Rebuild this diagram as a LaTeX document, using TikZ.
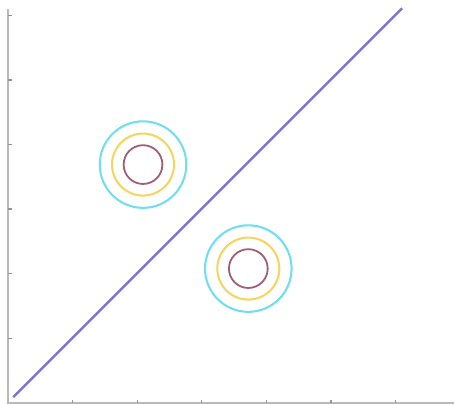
\documentclass[tikz,border=0pt]{standalone}
\definecolor{sepline}{RGB}{128,118,205}
\definecolor{ringc}{RGB}{110,222,240}
\definecolor{ringy}{RGB}{245,212,95}
\definecolor{ringr}{RGB}{160,95,115}
\definecolor{axisg}{RGB}{185,185,185}
\begin{document}
\begin{tikzpicture}[x=1cm, y=1cm]
                    \useasboundingbox (-0.124,-0.031) rectangle (6.966,6.238);
                    \draw[axisg, line width=0.9pt] (0,6.1) -- (0,0) -- (6.9,0);
                    \foreach \t in {1,...,6} {
                        \draw[axisg!80!black, line width=0.6pt] (0,\t) -- (0.06,\t);
                        \draw[axisg!80!black, line width=0.6pt] (\t,0) -- (\t,0.04);
                    }
                    
                    \draw[sepline, line width=1.1pt] (0.08,0.09) -- (6.1,6.11);
                    
                    \coordinate (upper) at (2.09,3.69);
                    \coordinate (lower) at (3.72,2.08);
                    \foreach \c in {upper,lower} {
                        \draw[ringc, line width=0.9pt] (\c) circle (0.67);
                        \draw[ringy, line width=0.9pt] (\c) circle (0.48);
                        \draw[ringr, line width=0.8pt] (\c) circle (0.30);
                    }
                \end{tikzpicture}
\end{document}
